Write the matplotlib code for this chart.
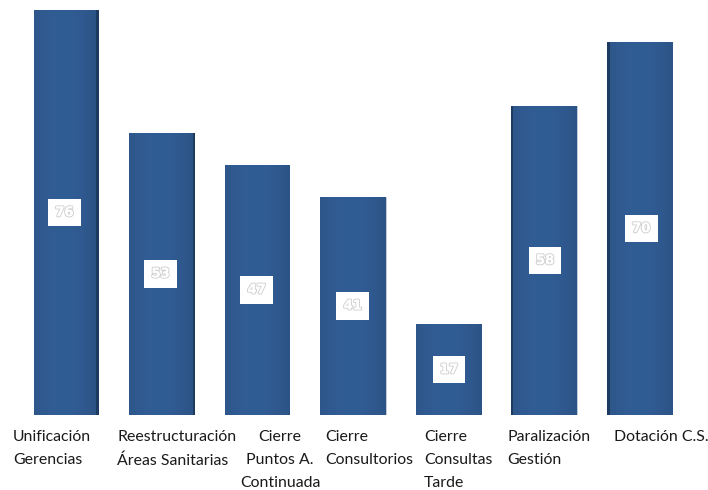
import numpy as np
import matplotlib.pyplot as plt
import matplotlib.patheffects as pe

categories = ["Unificación\nGerencias", "Reestructuración\nÁreas Sanitarias",
              "Cierre\nPuntos A.\nContinuada", "Cierre\nConsultorios",
              "Cierre\nConsultas\nTarde", "Paralización\nGestión", "Dotación C.S."]
values = [76, 53, 47, 41, 17, 58, 70]

# label placement (data x of anchor, alignment)
label_x = [-0.56, 0.53, 2.236, 2.707, 3.743, 4.613, 5.733]
label_ha = ["left", "left", "center", "left", "left", "left", "left"]

plt.rcParams['font.family'] = ['Lato', 'DejaVu Sans']

fig = plt.figure(figsize=(7.08, 4.9), dpi=100)
ax = fig.add_axes([18.75 / 708, 75 / 490, 668.5 / 708, 410 / 490])

x = np.arange(len(values))
w = 0.69
face = "#2f5a91"
side = "#1d3a60"

# gradient for the face
grad = np.linspace(0, 1, 64)
shade = 1 - 0.35 * (grad - 0.45) ** 2
cmap_img = np.zeros((1, 64, 3))
base = np.array([0x31, 0x5d, 0x95]) / 255
for k in range(3):
    cmap_img[0, :, k] = base[k] * shade

for i, v in enumerate(values):
    d = 0.013 * (3.3 - i)
    # side (depth) strip
    if d > 0:
        ax.bar(x[i] + w / 2 - d / 2, v, width=d, color=side, zorder=2)
        fl, fr = x[i] - w / 2, x[i] + w / 2 - d
    else:
        ax.bar(x[i] - w / 2 - d / 2, v, width=-d, color=side, zorder=2)
        fl, fr = x[i] - w / 2 - d, x[i] + w / 2
    b = ax.bar((fl + fr) / 2, v, width=fr - fl, color=face,
               edgecolor="#c9d3e0", linewidth=0.6, zorder=3)
    im = ax.imshow(cmap_img, extent=(fl, fr, 0, v), aspect="auto", zorder=3.5)
    im.set_clip_path(b.patches[0])
    t = ax.text((fl + fr) / 2, v / 2, str(v), ha="center", va="center",
                fontsize=9.5, fontweight="bold", color="white",
                family="DejaVu Sans", zorder=5,
                bbox=dict(boxstyle="square,pad=0.55", fc="white", ec="none"))
    t.set_path_effects([pe.withStroke(linewidth=1.6, foreground="#d2d2d2"),
                        pe.Normal()])

for i, lab in enumerate(categories):
    ax.text(label_x[i], -2.9, lab, ha=label_ha[i], va="top",
            multialignment="center" if label_ha[i] == "center" else "left",
            fontsize=11.4, color="#1a1a1a", linespacing=1.78)

ax.set_xlim(-0.5, 6.5)
ax.set_ylim(0, 77)
ax.axis("off")

fig.savefig("out.png", dpi=100)
